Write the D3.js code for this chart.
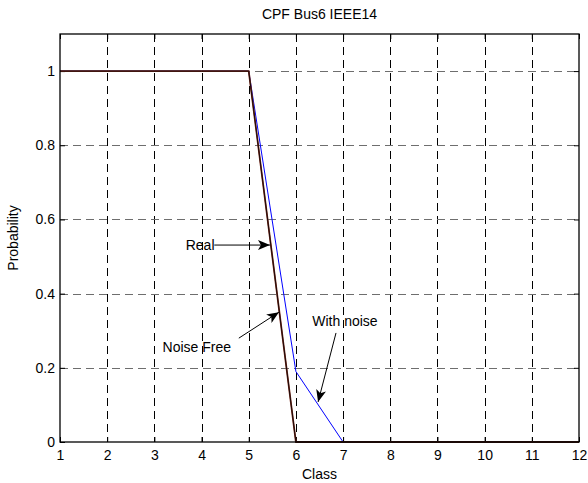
<!DOCTYPE html>
<html>
<head>
<meta charset="utf-8">
<script src="https://cdn.jsdelivr.net/npm/d3@7"></script>
<style>
  body { margin: 0; background: #fff; }
  svg { font-family: "Liberation Sans", Arial, sans-serif; }
  .grid line { stroke-width: 1; }
</style>
</head>
<body>
<svg width="588" height="483"></svg>
<script>
// class axis and the three probability curves
let classes = [1, 2, 3, 4, 5, 6, 7, 8, 9, 10, 11, 12];
let realProb = [1, 1, 1, 1, 1, 0, 0, 0, 0, 0, 0, 0];
let noiseFreeProb = [1, 1, 1, 1, 1, 0, 0, 0, 0, 0, 0, 0];
let withNoiseProb = [1, 1, 1, 1, 1, 0.19, 0, 0, 0, 0, 0, 0];
let yTicks = [0, 0.2, 0.4, 0.6, 0.8, 1];

// annotation text + arrows (data coords)
let notes = [
    { label: "Real", tx: 3.97, ty: 0.531, x1: 4.27, y1: 0.531, x2: 5.45, y2: 0.531 },
    { label: "Noise Free", tx: 3.9, ty: 0.256, x1: 4.79, y1: 0.28, x2: 5.64, y2: 0.35 },
    { label: "With noise", tx: 7.04, ty: 0.326, x1: 6.85, y1: 0.294, x2: 6.47, y2: 0.108 }
];

let svg = d3.select("svg");
let margin = { top: 34, right: 9, bottom: 41, left: 60 },
    width = +svg.attr("width") - margin.left - margin.right,
    height = +svg.attr("height") - margin.top - margin.bottom;

let x = d3.scaleLinear().domain([1, 12]).range([0, width]);
let y = d3.scaleLinear().domain([0, 1.1]).range([height, 0]);

let g = svg.append("g")
    .attr("transform", "translate(" + margin.left + "," + margin.top + ")");

// grid
g.append("g").classed("grid", true)
    .selectAll("line")
    .data(classes.slice(1, -1))
    .enter().append("line")
    .attr("x1", d => Math.round(x(d)) + 0.5).attr("x2", d => Math.round(x(d)) + 0.5)
    .attr("y1", 0).attr("y2", height)
    .attr("stroke", "#000")
    .attr("stroke-dasharray", "8,5");

g.append("g").classed("grid", true)
    .selectAll("line")
    .data(yTicks.slice(1))
    .enter().append("line")
    .attr("x1", 0).attr("x2", width)
    .attr("y1", d => Math.round(y(d)) + 0.5).attr("y2", d => Math.round(y(d)) + 0.5)
    .attr("stroke", "#6e6e6e")
    .attr("stroke-dasharray", "8,5");

// axes
let xAxis = d3.axisBottom(x).tickValues(classes).tickSize(-5).tickPadding(8);
let yAxis = d3.axisLeft(y).tickValues(yTicks).tickSize(-5).tickPadding(5)
    .tickFormat(d => d3.format("")(d));

g.append("g")
    .attr("transform", "translate(0," + height + ")")
    .call(xAxis)
    .call(a => a.select(".domain").remove())
    .selectAll("text").style("font-size", "14px").attr("fill", "#000");

g.append("g")
    .call(yAxis)
    .call(a => a.select(".domain").remove())
    .selectAll("text").style("font-size", "14px").attr("fill", "#000");

// top/right ticks
g.append("g")
    .call(d3.axisTop(x).tickValues(classes).tickSize(-5).tickFormat(""))
    .call(a => a.select(".domain").remove());
g.append("g")
    .attr("transform", "translate(" + width + ",0)")
    .call(d3.axisRight(y).tickValues(yTicks).tickSize(-5).tickFormat(""))
    .call(a => a.select(".domain").remove());

// lines
let line = d3.line()
    .x((d, i) => x(classes[i]))
    .y(d => y(d));

g.append("path").datum(withNoiseProb)
    .attr("d", line).attr("fill", "none")
    .attr("stroke", "#0000ff").attr("stroke-width", 1);

g.append("path").datum(noiseFreeProb)
    .attr("d", line).attr("fill", "none")
    .attr("stroke", "#7a2a1a").attr("stroke-width", 1.8);

g.append("path").datum(realProb)
    .attr("d", line).attr("fill", "none")
    .attr("stroke", "#1a0a0a").attr("stroke-width", 1);

// box
g.append("rect")
    .attr("x", 0).attr("y", 0)
    .attr("width", width).attr("height", height)
    .attr("fill", "none").attr("stroke", "#000").attr("stroke-width", 1.3);

// arrows
svg.append("defs").append("marker")
    .attr("id", "head")
    .attr("viewBox", "0 0 12 10")
    .attr("refX", 12).attr("refY", 5)
    .attr("markerWidth", 12).attr("markerHeight", 10)
    .attr("markerUnits", "userSpaceOnUse")
    .attr("orient", "auto")
    .append("path")
    .attr("d", "M0,0 L12,5 L0,10 L3,5 Z")
    .attr("fill", "#000");

let ann = g.selectAll(".note").data(notes).enter().append("g").classed("note", true);
ann.append("line")
    .attr("x1", d => x(d.x1)).attr("y1", d => y(d.y1))
    .attr("x2", d => x(d.x2)).attr("y2", d => y(d.y2))
    .attr("stroke", "#000").attr("stroke-width", 1)
    .attr("marker-end", "url(#head)");
ann.append("text")
    .attr("x", d => x(d.tx)).attr("y", d => y(d.ty))
    .attr("dy", "0.35em")
    .attr("text-anchor", "middle")
    .style("font-size", "14px")
    .text(d => d.label);

// titles
svg.append("text")
    .attr("x", margin.left + width / 2).attr("y", 19)
    .attr("text-anchor", "middle").style("font-size", "14px")
    .text("CPF Bus6 IEEE14");

svg.append("text")
    .attr("x", margin.left + width / 2).attr("y", 479)
    .attr("text-anchor", "middle").style("font-size", "14px")
    .text("Class");

svg.append("text")
    .attr("transform", "translate(18," + (margin.top + height / 2) + ") rotate(-90)")
    .attr("text-anchor", "middle").style("font-size", "14px")
    .text("Probability");
</script>
</body>
</html>
